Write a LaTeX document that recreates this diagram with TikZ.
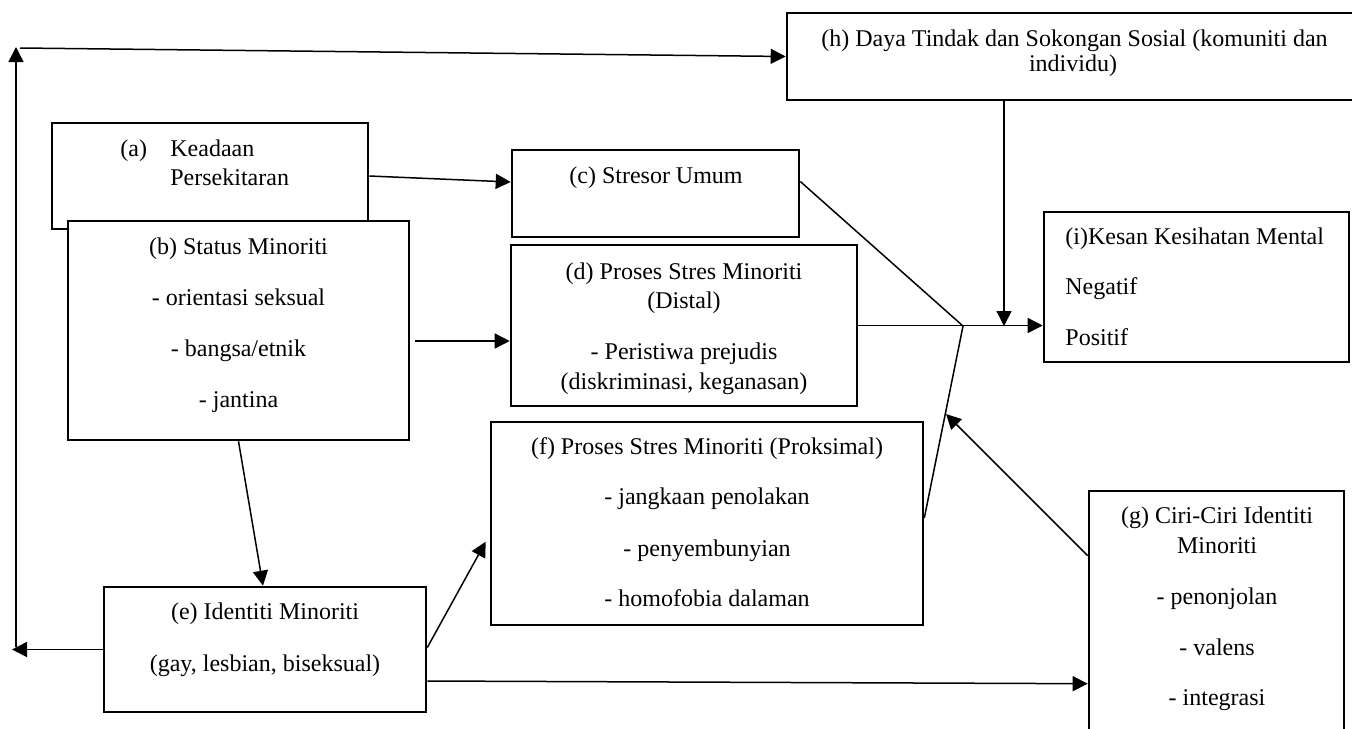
\documentclass[tikz,border=0pt]{standalone}
\usepackage{fontspec}
\setmainfont{Liberation Serif}
\usetikzlibrary{arrows.meta,fit,calc}
\tikzset{
  box/.style={draw, fill=white, line width=1.3pt, inner sep=0pt},
  txt/.style={font=\fontsize{12}{14}\selectfont, inner sep=0pt, anchor=base},
  txl/.style={txt, anchor=base west},
  conn/.style={line width=0.75pt},
  arr/.style={conn, -{Triangle[length=7.5pt,width=7.5pt]}},
}
\begin{document}
\begin{tikzpicture}[x=0.5pt,y=-0.5pt]
\useasboundingbox (0,0) rectangle (1352,728);
\clip (0,0) rectangle (1352,728);
\fill[white] (0,0) rectangle (1352,728);

% boxes
\node[box, fit={(52,123) (368,229)}] (a) {};
\node[box, fit={(68,221) (409,440)}] (b) {};
\node[box, fit={(512,150) (799,237)}] (c) {};
\node[box, fit={(511,245) (857,406)}] (d) {};
\node[box, fit={(104,587) (426,712)}] (e) {};
\node[box, fit={(491,422) (923,625)}] (f) {};
\node[box, fit={(1089,491) (1344,760)}] (g) {};
\node[box, fit={(787,13) (1361,100)}] (h) {};
\node[box, fit={(1044,212) (1349,362)}] (i) {};

% texts
\node[txl] (ta1) at (120,156) {(a)};
\node[txl] (ta2) at (170,156) {Keadaan};
\node[txl] (ta3) at (170,185) {Persekitaran};

\node[txt] (tb1) at (238.5,254) {(b) Status Minoriti};
\node[txt] (tb2) at (238.5,305) {- orientasi seksual};
\node[txt] (tb3) at (238.5,356) {- bangsa/etnik};
\node[txt] (tb4) at (238.5,407) {- jantina};

\node[txt] (tc1) at (656,183) {(c) Stresor Umum};

\node[txt] (td1) at (684,279) {(d) Proses Stres Minoriti};
\node[txt] (td2) at (684,308) {(Distal)};
\node[txt] (td3) at (684,359) {- Peristiwa prejudis};
\node[txt] (td4) at (684,389) {(diskriminasi, keganasan)};

\node[txt] (te1) at (265,619) {(e) Identiti Minoriti};
\node[txt] (te2) at (265,671) {(gay, lesbian, biseksual)};

\node[txt] (tf1) at (707,454) {(f) Proses Stres Minoriti (Proksimal)};
\node[txt] (tf2) at (707,504) {- jangkaan penolakan};
\node[txt] (tf3) at (707,556) {- penyembunyian};
\node[txt] (tf4) at (707,606) {- homofobia dalaman};

\node[txt] (tg1) at (1217,523) {(g) Ciri-Ciri Identiti};
\node[txt] (tg2) at (1217,553) {Minoriti};
\node[txt] (tg3) at (1217,604) {- penonjolan};
\node[txt] (tg4) at (1217,655) {- valens};
\node[txt] (tg5) at (1217,705) {- integrasi};

\node[txt] (th1) at (1074.5,46) {(h) Daya Tindak dan Sokongan Sosial (komuniti dan};
\node[txt] (th2) at (1073,71) {individu)};

\node[txl] (ti1) at (1065,244) {(i)Kesan Kesihatan Mental};
\node[txl] (ti2) at (1065,294) {Negatif};
\node[txl] (ti3) at (1065,345) {Positif};

% coordinates
\coordinate (J) at (963,326);
\coordinate (HJ) at (1004,326);
\coordinate (BD) at (415,341);
\coordinate (L1) at (12,649);
\coordinate (V1) at (16,647);
\coordinate (V2) at (16,47);
\coordinate (T1) at (20,48);
\coordinate (GT) at (946,414);

% connectors
\draw[arr] (a.east) -- ([yshift=-3pt]a.east -| c.west);
\draw[arr] (BD) -- (BD -| d.west);
\draw[arr] (b.south) -- ([xshift=-1pt]e.north);
\draw[arr] ([yshift=1pt]e.east) -- ($(f.north west)+(-4,121)$);
\draw[arr] ([yshift=-15.75pt]e.east) -- ($(g.north west)+(0,194)$);
\draw[arr] (e.west) -- (e.west -| L1);
\draw[arr] (V1) -- (V2);
\draw[arr] (T1) -- (h.west);
\draw[arr] (HJ |- h.south) -- (HJ);
\draw[conn] ([yshift=6pt]c.east) -- (J);
\draw[arr] (d.east) -- (d.east -| i.west);
\draw[conn] ([yshift=2.75pt]f.east) -- (J);
\draw[arr] ($(g.north west)+(0,66)$) -- (GT);
\end{tikzpicture}
\end{document}
